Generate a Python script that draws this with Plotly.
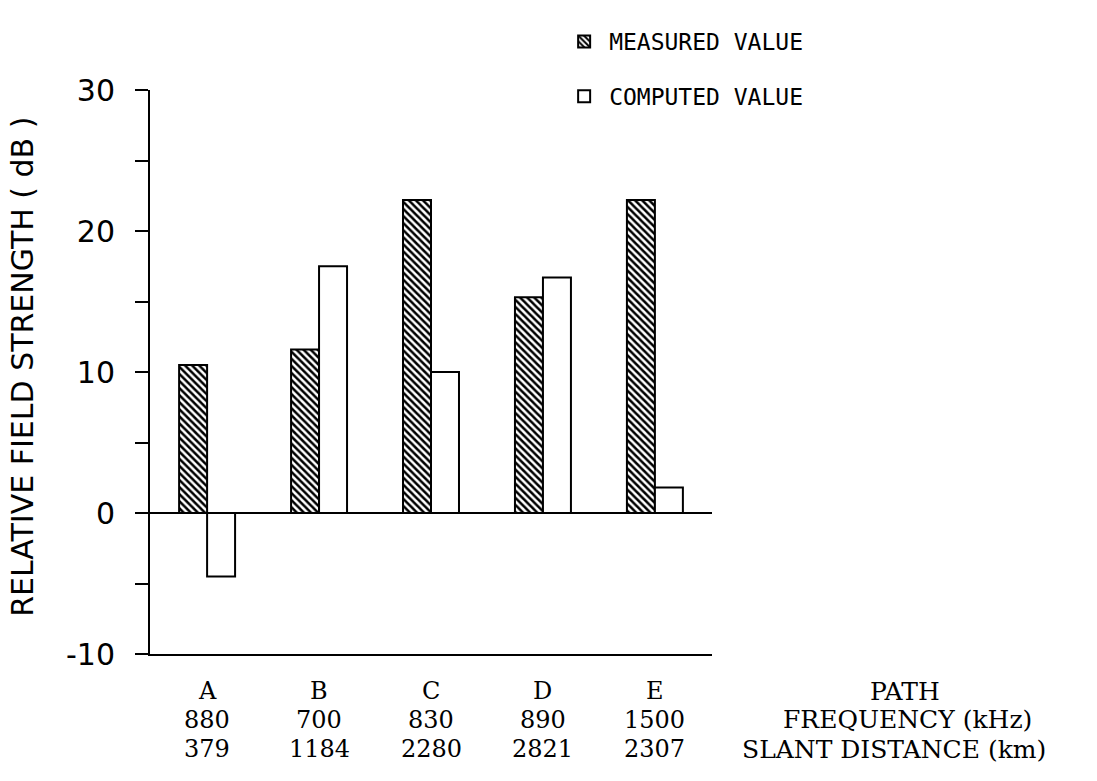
import plotly.graph_objects as go

paths = ["A", "B", "C", "D", "E"]
frequency_khz = ["880", "700", "830", "890", "1500"]
slant_km = ["379", "1184", "2280", "2821", "2307"]
measured = [10.5, 11.6, 22.2, 15.3, 22.2]
computed = [-4.5, 17.5, 10.0, 16.7, 1.8]
y_ticks = [-10, 0, 10, 20, 30]

W, H = 1097, 781
ML, MR, MT, MB = 150, 385, 12, 127
PH = H - MT - MB          # paper height
PLOT_BOTTOM = H - MB      # pixel row of y = -10


def py(pix):
    """paper y fraction for a pixel row"""
    return (PLOT_BOTTOM - pix) / PH


fig = go.Figure()
fig.add_trace(go.Bar(
    x=paths, y=measured, name="MEASURED VALUE", legendgroup="m",
    marker=dict(color="white", line=dict(color="black", width=2),
                pattern=dict(shape="\\", size=5, solidity=0.5, fgcolor="black", bgcolor="white")),
))
fig.add_trace(go.Bar(
    x=paths, y=computed, name="COMPUTED VALUE", legendgroup="c",
    marker=dict(color="white", line=dict(color="black", width=2)),
))

serif = "DejaVu Serif"
rows = [py(691), py(720), py(749)]
for i, p in enumerate(paths):
    for txt, yy in zip((p, frequency_khz[i], slant_km[i]), rows):
        fig.add_annotation(x=p, y=yy, xref="x", yref="paper", text=txt, showarrow=False,
                           xanchor="center", yanchor="middle",
                           font=dict(family=serif, size=24, color="black"))

for txt, xx, yy in (("PATH", 1.343, rows[0]), ("FREQUENCY (kHz)", 1.348, rows[1]),
                    ("SLANT DISTANCE (km)", 1.324, rows[2])):
    fig.add_annotation(x=xx, y=yy, xref="paper", yref="paper", text=txt, showarrow=False,
                       xanchor="center", yanchor="middle",
                       font=dict(family=serif, size=25, color="black"))

fig.add_annotation(x=-0.228, y=py(367), xref="paper", yref="paper",
                   text="RELATIVE FIELD STRENGTH ( dB )", textangle=-90, showarrow=False,
                   xanchor="center", yanchor="middle",
                   font=dict(family="DejaVu Sans", size=30, color="black"))

fig.update_layout(
    template="none",
    width=W, height=H,
    margin=dict(l=ML, r=MR, t=MT, b=MB, autoexpand=False),
    paper_bgcolor="white", plot_bgcolor="white",
    barmode="group", bargap=0.5, bargroupgap=0,
    showlegend=True,
    legend=dict(x=0.728, y=py(20), xanchor="left", yanchor="top",
                font=dict(family="DejaVu Sans Mono", size=23, color="black"),
                tracegroupgap=22, bgcolor="rgba(0,0,0,0)", borderwidth=0, itemwidth=40),
    xaxis=dict(range=[-0.51, 4.51], showticklabels=False, showgrid=False, automargin=False,
               showline=True, linecolor="black", linewidth=2, ticks="", zeroline=False),
    yaxis=dict(range=[-10, 30], domain=[0, py(90)], automargin=False,
               tickvals=y_ticks, ticktext=[str(v) for v in y_ticks],
               showgrid=False, showline=True, linecolor="black", linewidth=2,
               ticks="outside", ticklen=13, tickwidth=2, tickcolor="black",
               ticklabelstandoff=14,
               minor=dict(dtick=5, ticks="outside", ticklen=13, tickwidth=2, tickcolor="black",
                          showgrid=False),
               tickfont=dict(family="DejaVu Sans", size=30, color="black"),
               zeroline=True, zerolinecolor="black", zerolinewidth=2),
)

fig.write_html("out.html")
